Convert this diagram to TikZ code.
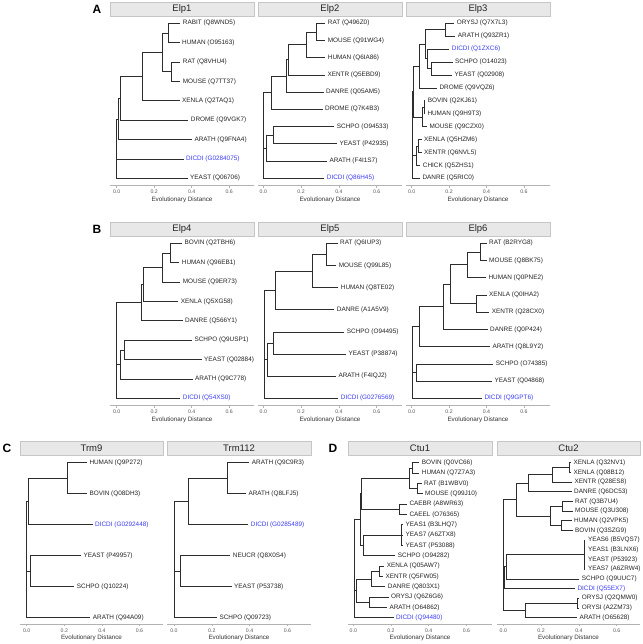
\documentclass[tikz,border=0pt]{standalone}
\usepackage{fontspec}
\setmainfont{Liberation Sans}
\definecolor{treecol}{RGB}{45,45,45}
\definecolor{labcol}{RGB}{35,35,35}
\definecolor{dicblue}{RGB}{60,60,245}
\newcommand{\tipfont}{\fontsize{6.4}{7}\selectfont}
\newcommand{\stripfont}{\fontsize{9.5}{10}\selectfont}
\newcommand{\tickfont}{\fontsize{5.2}{6}\selectfont}
\newcommand{\axfont}{\fontsize{6.3}{7}\selectfont}
\newcommand{\panfont}{\fontsize{12}{13}\selectfont\bfseries}
\tikzset{
  br/.style={draw=treecol, line width=0.7pt},
  tiplab/.style={anchor=west, inner xsep=2.5pt, inner ysep=0.5pt, font=\tipfont, text=labcol},
  dic/.style={text=dicblue},
  stripbox/.style={draw=gray!45, fill=gray!18, line width=0.5pt},
  striptitle/.style={font=\stripfont, text=black!85, inner sep=0pt},
  axisline/.style={draw=gray!60, line width=0.8pt},
  axtick/.style={draw=gray!60, line width=0.5pt},
  ticklab/.style={font=\tickfont, text=black!65, inner sep=0pt},
  axtitle/.style={font=\axfont, text=black!80, inner sep=0pt},
  panlab/.style={font=\panfont, inner sep=0pt},
}
% name, xl, xr, ystrip, title, x0, step, yaxis
\newcommand{\facet}[8]{%
  \path[stripbox] (#2,#4) rectangle (#3,#4+14);
  \node[striptitle] (#1title) at ({(#2+#3)/2},#4+7.3) {#5};
  \draw[axisline] (#2,#8) -- (#3,#8);
  \foreach \k/\lab in {0/0.0,1/0.2,2/0.4,3/0.6} {
    \draw[axtick] (#6+\k*#7,#8) -- (#6+\k*#7,#8+2);
    \node[ticklab] (#1tick\k) at (#6+\k*#7,#8+6) {\lab};
  }
  \node[axtitle] (#1axt) at ({(#2+#3)/2},#8+13.8) {Evolutionary Distance};
}
\newcommand{\tip}[5][]{\node[tiplab,#1] (#2) at (#3,#4) {#5};}
\begin{document}
\begin{tikzpicture}[x=1pt,y=-1pt]
\useasboundingbox (0,0) rectangle (642,644);
% panel letters
\node[panlab] (labA) at (97,9) {A};
\node[panlab] (labB) at (97,229) {B};
\node[panlab] (labC) at (7,448) {C};
\node[panlab] (labD) at (333,448) {D};
% facets
\facet{f1}{110}{254}{2}{Elp1}{116.7}{37.5}{185.7}
\facet{f2}{258}{402}{2}{Elp2}{263.3}{37.8}{185.7}
\facet{f3}{406}{550}{2}{Elp3}{411.7}{37.4}{185.7}
\facet{f4}{110}{254}{222}{Elp4}{116.7}{37.5}{405.7}
\facet{f5}{258}{402}{222}{Elp5}{263.3}{37.8}{405.7}
\facet{f6}{406}{550}{222}{Elp6}{411.7}{37.4}{405.7}
\facet{f7}{20}{163}{441}{Trm9}{26.7}{37.6}{624.3}
\facet{f8}{167}{311}{441}{Trm112}{174}{37.8}{624.3}
\facet{f9}{348}{492}{441}{Ctu1}{353.3}{37.7}{624.3}
\facet{f10}{497}{640}{441}{Ctu2}{503.3}{37.8}{624.3}

% ---------------- Elp1
\coordinate (e1r) at (116.7,148.6);
\coordinate (e1f) at (118.3,119);
\coordinate (e1e) at (120,98.4);
\coordinate (e1d) at (142.7,76.6);
\coordinate (e1c) at (162.3,52.4);
\coordinate (e1a) at (168.3,33);
\coordinate (e1b) at (171.7,71.75);
\tip{e1t1}{180.2}{23.3}{RABIT (Q8WND5)}
\tip{e1t2}{179.5}{42.7}{HUMAN (O95163)}
\tip{e1t3}{180.2}{62.1}{RAT (Q8VHU4)}
\tip{e1t4}{180.2}{81.4}{MOUSE (Q7TT37)}
\tip{e1t5}{179.5}{100.8}{XENLA (Q2TAQ1)}
\tip{e1t6}{188.2}{120.2}{DROME (Q9VGK7)}
\tip{e1t7}{191.8}{139.6}{ARATH (Q9FNA4)}
\tip[dic]{e1t8}{183.5}{158.9}{DICDI (G0284075)}
\tip{e1t9}{187.5}{178.3}{YEAST (Q06706)}
\draw[br] (e1a) |- (e1t1.west); \draw[br] (e1a) |- (e1t2.west);
\draw[br] (e1b) |- (e1t3.west); \draw[br] (e1b) |- (e1t4.west);
\draw[br] (e1c) |- (e1a); \draw[br] (e1c) |- (e1b);
\draw[br] (e1d) |- (e1c); \draw[br] (e1d) |- (e1t5.west);
\draw[br] (e1e) |- (e1d); \draw[br] (e1e) |- (e1t6.west);
\draw[br] (e1f) |- (e1e); \draw[br] (e1f) |- (e1t7.west);
\draw[br] (e1r) |- (e1f); \draw[br] (e1r) |- (e1t8.west); \draw[br] (e1r) |- (e1t9.west);

% ---------------- Elp2
\coordinate (e2r) at (263.8,140);
\coordinate (e2a) at (316,31.9);
\coordinate (e2b) at (306.7,44.8);
\coordinate (e2c) at (288.3,59.85);
\coordinate (e2d) at (286,76);
\coordinate (e2e) at (271.7,92.65);
\coordinate (e2f) at (273.3,135.2);
\coordinate (e2g) at (266.3,148.1);
\tip{e2t1}{325.2}{23.3}{RAT (Q496Z0)}
\tip{e2t2}{325.2}{40.5}{MOUSE (Q91WG4)}
\tip{e2t3}{325.2}{57.7}{HUMAN (Q6IA86)}
\tip{e2t4}{324.8}{74.9}{XENTR (Q5EBD9)}
\tip{e2t5}{323.5}{92.1}{DANRE (Q05AM5)}
\tip{e2t6}{322.5}{109.3}{DROME (Q7K4B3)}
\tip{e2t7}{334.2}{126.6}{SCHPO (O94533)}
\tip{e2t8}{336.8}{143.8}{YEAST (P42935)}
\tip{e2t9}{326.8}{161.0}{ARATH (F4I1S7)}
\tip[dic]{e2t10}{324.2}{178.3}{DICDI (Q86H45)}
\draw[br] (e2a) |- (e2t1.west); \draw[br] (e2a) |- (e2t2.west);
\draw[br] (e2b) |- (e2a); \draw[br] (e2b) |- (e2t3.west);
\draw[br] (e2c) |- (e2b); \draw[br] (e2c) |- (e2t4.west);
\draw[br] (e2d) |- (e2c); \draw[br] (e2d) |- (e2t5.west);
\draw[br] (e2e) |- (e2d); \draw[br] (e2e) |- (e2t6.west);
\draw[br] (e2f) |- (e2t7.west); \draw[br] (e2f) |- (e2t8.west);
\draw[br] (e2g) |- (e2f); \draw[br] (e2g) |- (e2t9.west);
\draw[br] (e2r) |- (e2e); \draw[br] (e2r) |- (e2g); \draw[br] (e2r) |- (e2t10.west);

% ---------------- Elp3
\coordinate (e3r) at (412,150);
\coordinate (e3a) at (445,29.75);
\coordinate (e3b) at (431.7,68.55);
\coordinate (e3c) at (427.7,58.8);
\coordinate (e3d) at (425,44.3);
\coordinate (e3e) at (419,66.1);
\coordinate (e3f) at (424,107.25);
\coordinate (e3g) at (422,117);
\coordinate (e3h) at (413.2,91.55);
\coordinate (e3i) at (418.3,146.05);
\coordinate (e3j) at (416,155.7);
\tip{e3t1}{454.2}{23.3}{ORYSJ (Q7X7L3)}
\tip{e3t2}{455.2}{36.2}{ARATH (Q93ZR1)}
\tip[dic]{e3t3}{449.2}{49.1}{DICDI (Q1ZXC6)}
\tip{e3t4}{452.5}{62.1}{SCHPO (O14023)}
\tip{e3t5}{451.8}{75.0}{YEAST (Q02908)}
\tip{e3t6}{436.8}{87.9}{DROME (Q9VQZ6)}
\tip{e3t7}{425.2}{100.8}{BOVIN (Q2KJ61)}
\tip{e3t8}{424.8}{113.7}{HUMAN (Q9H9T3)}
\tip{e3t9}{426.8}{126.7}{MOUSE (Q9CZX0)}
\tip{e3t10}{421.5}{139.6}{XENLA (Q5HZM6)}
\tip{e3t11}{421.5}{152.5}{XENTR (Q6NVL5)}
\tip{e3t12}{420.2}{165.4}{CHICK (Q5ZHS1)}
\tip{e3t13}{419.8}{178.3}{DANRE (Q5RIC0)}
\draw[br] (e3a) |- (e3t1.west); \draw[br] (e3a) |- (e3t2.west);
\draw[br] (e3b) |- (e3t4.west); \draw[br] (e3b) |- (e3t5.west);
\draw[br] (e3c) |- (e3t3.west); \draw[br] (e3c) |- (e3b);
\draw[br] (e3d) |- (e3a); \draw[br] (e3d) |- (e3c);
\draw[br] (e3e) |- (e3d); \draw[br] (e3e) |- (e3t6.west);
\draw[br] (e3f) |- (e3t7.west); \draw[br] (e3f) |- (e3t8.west);
\draw[br] (e3g) |- (e3f); \draw[br] (e3g) |- (e3t9.west);
\draw[br] (e3h) |- (e3e); \draw[br] (e3h) |- (e3g);
\draw[br] (e3i) |- (e3t10.west); \draw[br] (e3i) |- (e3t11.west);
\draw[br] (e3j) |- (e3i); \draw[br] (e3j) |- (e3t12.west);
\draw[br] (e3r) |- (e3h); \draw[br] (e3r) |- (e3j); \draw[br] (e3r) |- (e3t13.west);

% ---------------- Elp4
\coordinate (e4r) at (116.7,360);
\coordinate (e4a) at (170,253);
\coordinate (e4b) at (162.7,267.55);
\coordinate (e4c) at (143.3,284.5);
\coordinate (e4d) at (141.7,302.65);
\coordinate (e4e) at (124.3,349.9);
\coordinate (e4f) at (120,364.4);
\tip{e4t1}{181.8}{243.3}{BOVIN (Q2TBH6)}
\tip{e4t2}{179.2}{262.7}{HUMAN (Q96EB1)}
\tip{e4t3}{180.2}{282.1}{MOUSE (Q9ER73)}
\tip{e4t4}{178.2}{301.4}{XENLA (Q5XG58)}
\tip{e4t5}{182.5}{320.8}{DANRE (Q566Y1)}
\tip{e4t6}{191.8}{340.2}{SCHPO (Q9USP1)}
\tip{e4t7}{201.5}{359.6}{YEAST (Q02884)}
\tip{e4t8}{192.5}{378.9}{ARATH (Q9C778)}
\tip[dic]{e4t9}{180.2}{398.3}{DICDI (Q54XS0)}
\draw[br] (e4a) |- (e4t1.west); \draw[br] (e4a) |- (e4t2.west);
\draw[br] (e4b) |- (e4a); \draw[br] (e4b) |- (e4t3.west);
\draw[br] (e4c) |- (e4b); \draw[br] (e4c) |- (e4t4.west);
\draw[br] (e4d) |- (e4c); \draw[br] (e4d) |- (e4t5.west);
\draw[br] (e4e) |- (e4t6.west); \draw[br] (e4e) |- (e4t7.west);
\draw[br] (e4f) |- (e4e); \draw[br] (e4f) |- (e4t8.west);
\draw[br] (e4r) |- (e4d); \draw[br] (e4r) |- (e4f); \draw[br] (e4r) |- (e4t9.west);

% ---------------- Elp5
\coordinate (e5r) at (264.5,360);
\coordinate (e5a) at (326,254.35);
\coordinate (e5b) at (312.7,270.98);
\coordinate (e5c) at (275.7,290.34);
\coordinate (e5d) at (273.3,342.95);
\coordinate (e5e) at (267.3,359.5);
\tip{e5t1}{337.5}{243.3}{RAT (Q6IUP3)}
\tip{e5t2}{336.2}{265.4}{MOUSE (Q99L85)}
\tip{e5t3}{338.2}{287.6}{HUMAN (Q8TE02)}
\tip{e5t4}{334.2}{309.7}{DANRE (A1A5V9)}
\tip{e5t5}{344.2}{331.9}{SCHPO (O94495)}
\tip{e5t6}{345.8}{354.0}{YEAST (P38874)}
\tip{e5t7}{335.8}{376.1}{ARATH (F4IQJ2)}
\tip[dic]{e5t8}{338.2}{398.3}{DICDI (G0276569)}
\draw[br] (e5a) |- (e5t1.west); \draw[br] (e5a) |- (e5t2.west);
\draw[br] (e5b) |- (e5a); \draw[br] (e5b) |- (e5t3.west);
\draw[br] (e5c) |- (e5b); \draw[br] (e5c) |- (e5t4.west);
\draw[br] (e5d) |- (e5t5.west); \draw[br] (e5d) |- (e5t6.west);
\draw[br] (e5e) |- (e5d); \draw[br] (e5e) |- (e5t7.west);
\draw[br] (e5r) |- (e5c); \draw[br] (e5r) |- (e5e); \draw[br] (e5r) |- (e5t8.west);

% ---------------- Elp6
\coordinate (e6r) at (412,370);
\coordinate (e6a) at (480,251.9);
\coordinate (e6b) at (467.7,264.8);
\coordinate (e6c) at (476.7,303.6);
\coordinate (e6d) at (450,284.2);
\coordinate (e6e) at (443.3,306.8);
\coordinate (e6f) at (419,326.7);
\coordinate (e6g) at (416.7,372.5);
\tip{e6t1}{486.5}{243.3}{RAT (B2RYG8)}
\tip{e6t2}{486.5}{260.5}{MOUSE (Q8BK75)}
\tip{e6t3}{485.8}{277.7}{HUMAN (Q0PNE2)}
\tip{e6t4}{486.5}{295.0}{XENLA (Q0IHA2)}
\tip{e6t5}{489.2}{312.2}{XENTR (Q28CX0)}
\tip{e6t6}{487.5}{329.4}{DANRE (Q0P424)}
\tip{e6t7}{489.8}{346.6}{ARATH (Q8L9Y2)}
\tip{e6t8}{493.2}{363.9}{SCHPO (O74385)}
\tip{e6t9}{491.8}{381.1}{YEAST (Q04868)}
\tip[dic]{e6t10}{481.8}{398.3}{DICDI (Q9GPT6)}
\draw[br] (e6a) |- (e6t1.west); \draw[br] (e6a) |- (e6t2.west);
\draw[br] (e6b) |- (e6a); \draw[br] (e6b) |- (e6t3.west);
\draw[br] (e6c) |- (e6t4.west); \draw[br] (e6c) |- (e6t5.west);
\draw[br] (e6d) |- (e6b); \draw[br] (e6d) |- (e6c);
\draw[br] (e6e) |- (e6d); \draw[br] (e6e) |- (e6t6.west);
\draw[br] (e6f) |- (e6e); \draw[br] (e6f) |- (e6t7.west);
\draw[br] (e6g) |- (e6t8.west); \draw[br] (e6g) |- (e6t9.west);
\draw[br] (e6r) |- (e6f); \draw[br] (e6r) |- (e6g); \draw[br] (e6r) |- (e6t10.west);

% ---------------- Trm9
\coordinate (c1r) at (26.7,560);
\coordinate (c1a) at (67.7,478.2);
\coordinate (c1b) at (28.3,501.45);
\coordinate (c1c) at (30.7,571.2);
\tip{c1t1}{86.8}{462.7}{HUMAN (Q9P272)}
\tip{c1t2}{86.8}{493.7}{BOVIN (Q08DH3)}
\tip[dic]{c1t3}{92.5}{524.7}{DICDI (G0292448)}
\tip{c1t4}{80.8}{555.7}{YEAST (P49957)}
\tip{c1t5}{74.2}{586.7}{SCHPO (Q10224)}
\tip{c1t6}{90.2}{617.7}{ARATH (Q94A09)}
\draw[br] (c1a) |- (c1t1.west); \draw[br] (c1a) |- (c1t2.west);
\draw[br] (c1b) |- (c1a); \draw[br] (c1b) |- (c1t3.west);
\draw[br] (c1c) |- (c1t4.west); \draw[br] (c1c) |- (c1t5.west);
\draw[br] (c1r) |- (c1b); \draw[br] (c1r) |- (c1c); \draw[br] (c1r) |- (c1t6.west);

% ---------------- Trm112
\coordinate (c2r) at (174,560);
\coordinate (c2a) at (227.3,478.2);
\coordinate (c2b) at (188.3,501.45);
\coordinate (c2c) at (180.7,571.2);
\tip{c2t1}{249.2}{462.7}{ARATH (Q9C9R3)}
\tip{c2t2}{245.8}{493.7}{ARATH (Q8LFJ5)}
\tip[dic]{c2t3}{248.2}{524.7}{DICDI (G0285489)}
\tip{c2t4}{230.2}{555.7}{NEUCR (Q8X0S4)}
\tip{c2t5}{231.5}{586.7}{YEAST (P53738)}
\tip{c2t6}{216.8}{617.7}{SCHPO (Q09723)}
\draw[br] (c2a) |- (c2t1.west); \draw[br] (c2a) |- (c2t2.west);
\draw[br] (c2b) |- (c2a); \draw[br] (c2b) |- (c2t3.west);
\draw[br] (c2c) |- (c2t4.west); \draw[br] (c2c) |- (c2t5.west);
\draw[br] (c2r) |- (c2b); \draw[br] (c2r) |- (c2c); \draw[br] (c2r) |- (c2t6.west);

% ---------------- Ctu1
\coordinate (d1r) at (354,590);
\coordinate (d1a) at (412.7,467.85);
\coordinate (d1b) at (417.3,488.55);
\coordinate (d1c) at (409.3,478.2);
\coordinate (d1d) at (399,509.2);
\coordinate (d1e) at (361,493.7);
\coordinate (d1f) at (401.7,535.05);
\coordinate (d1g) at (363.3,545.4);
\coordinate (d1h) at (360,519.55);
\coordinate (d1i) at (379.3,571.2);
\coordinate (d1j) at (371.7,578.95);
\coordinate (d1k) at (369.3,602.2);
\coordinate (d1l) at (356,590.6);
\tip{d1t1}{419.2}{462.7}{BOVIN (Q0VC66)}
\tip{d1t2}{419.2}{473.0}{HUMAN (Q7Z7A3)}
\tip{d1t3}{421.5}{483.4}{RAT (B1WBV0)}
\tip{d1t4}{422.5}{493.7}{MOUSE (Q99J10)}
\tip{d1t5}{406.8}{504.0}{CAEBR (A8WR63)}
\tip{d1t6}{406.8}{514.4}{CAEEL (O76365)}
\tip{d1t7}{403}{524.7}{YEAS1 (B3LHQ7)}
\tip{d1t8}{403}{535.0}{YEAS7 (A6ZTX8)}
\tip{d1t9}{403}{545.4}{YEAST (P53088)}
\tip{d1t10}{395.2}{555.7}{SCHPO (O94282)}
\tip{d1t11}{384.2}{566.0}{XENLA (Q05AW7)}
\tip{d1t12}{382.8}{576.4}{XENTR (Q5FW05)}
\tip{d1t13}{385.2}{586.7}{DANRE (Q803X1)}
\tip{d1t14}{388.5}{597.0}{ORYSJ (Q6Z6G6)}
\tip{d1t15}{386.8}{607.4}{ARATH (O64862)}
\tip[dic]{d1t16}{393.5}{617.7}{DICDI (Q94480)}
\draw[br] (d1a) |- (d1t1.west); \draw[br] (d1a) |- (d1t2.west);
\draw[br] (d1b) |- (d1t3.west); \draw[br] (d1b) |- (d1t4.west);
\draw[br] (d1c) |- (d1a); \draw[br] (d1c) |- (d1b);
\draw[br] (d1d) |- (d1t5.west); \draw[br] (d1d) |- (d1t6.west);
\draw[br] (d1e) |- (d1c); \draw[br] (d1e) |- (d1d);
\draw[br] (d1f) |- (d1t7.west); \draw[br] (d1f) |- (d1t8.west); \draw[br] (d1f) |- (d1t9.west);
\draw[br] (d1g) |- (d1f); \draw[br] (d1g) |- (d1t10.west);
\draw[br] (d1h) |- (d1e); \draw[br] (d1h) |- (d1g);
\draw[br] (d1i) |- (d1t11.west); \draw[br] (d1i) |- (d1t12.west);
\draw[br] (d1j) |- (d1i); \draw[br] (d1j) |- (d1t13.west);
\draw[br] (d1k) |- (d1t14.west); \draw[br] (d1k) |- (d1t15.west);
\draw[br] (d1l) |- (d1j); \draw[br] (d1l) |- (d1k);
\draw[br] (d1r) |- (d1h); \draw[br] (d1r) |- (d1l); \draw[br] (d1r) |- (d1t16.west);

% ---------------- Ctu2
\coordinate (d2r) at (503.3,560);
\coordinate (d2a) at (569.8,467.55);
\coordinate (d2b) at (552.3,474.8);
\coordinate (d2c) at (528.3,483.3);
\coordinate (d2d) at (562.7,506.3);
\coordinate (d2e) at (561,525.67);
\coordinate (d2f) at (550.3,515.98);
\coordinate (d2g) at (516.7,499.6);
\coordinate (d2h) at (584.3,554.73);
\coordinate (d2i) at (506,566.84);
\coordinate (d2j) at (504.5,577.74);
\coordinate (d2k) at (577.7,603.17);
\coordinate (d2l) at (525,610.4);
\tip{d2t1}{571}{462.7}{XENLA (Q32NV1)}
\tip{d2t2}{571}{472.39}{XENLA (Q08B12)}
\tip{d2t3}{571.8}{482.08}{XENTR (Q28ES8)}
\tip{d2t4}{571.5}{491.76}{DANRE (Q6DC53)}
\tip{d2t5}{572.5}{501.45}{RAT (Q3B7U4)}
\tip{d2t6}{572.5}{511.14}{MOUSE (Q3U308)}
\tip{d2t7}{571.5}{520.83}{HUMAN (Q2VPK5)}
\tip{d2t8}{572.5}{530.51}{BOVIN (Q3SZG9)}
\tip{d2t9}{585.4}{540.2}{YEAS6 (B5VQS7)}
\tip{d2t10}{585.4}{549.89}{YEAS1 (B3LNX6)}
\tip{d2t11}{585.4}{559.58}{YEAST (P53923)}
\tip{d2t12}{585.4}{569.26}{YEAS7 (A6ZRW4)}
\tip{d2t13}{579.2}{578.95}{SCHPO (Q9UUC7)}
\tip[dic]{d2t14}{574.8}{588.64}{DICDI (Q55EX7)}
\tip{d2t15}{579.2}{598.33}{ORYSJ (Q2QMW0)}
\tip{d2t16}{579.2}{608.01}{ORYSI (A2ZM73)}
\tip{d2t17}{576.8}{617.7}{ARATH (O65628)}
\draw[br] (d2a) |- (d2t1.west); \draw[br] (d2a) |- (d2t2.west);
\draw[br] (d2b) |- (d2a); \draw[br] (d2b) |- (d2t3.west);
\draw[br] (d2c) |- (d2b); \draw[br] (d2c) |- (d2t4.west);
\draw[br] (d2d) |- (d2t5.west); \draw[br] (d2d) |- (d2t6.west);
\draw[br] (d2e) |- (d2t7.west); \draw[br] (d2e) |- (d2t8.west);
\draw[br] (d2f) |- (d2d); \draw[br] (d2f) |- (d2e);
\draw[br] (d2g) |- (d2c); \draw[br] (d2g) |- (d2f);
\draw[br] (d2h) |- (d2t9.west); \draw[br] (d2h) |- (d2t10.west);
\draw[br] (d2h) |- (d2t11.west); \draw[br] (d2h) |- (d2t12.west);
\draw[br] (d2i) |- (d2h); \draw[br] (d2i) |- (d2t13.west);
\draw[br] (d2j) |- (d2i); \draw[br] (d2j) |- (d2t14.west);
\draw[br] (d2k) |- (d2t15.west); \draw[br] (d2k) |- (d2t16.west);
\draw[br] (d2l) |- (d2k); \draw[br] (d2l) |- (d2t17.west);
\draw[br] (d2r) |- (d2g); \draw[br] (d2r) |- (d2j); \draw[br] (d2r) |- (d2l);
\end{tikzpicture}
\end{document}
